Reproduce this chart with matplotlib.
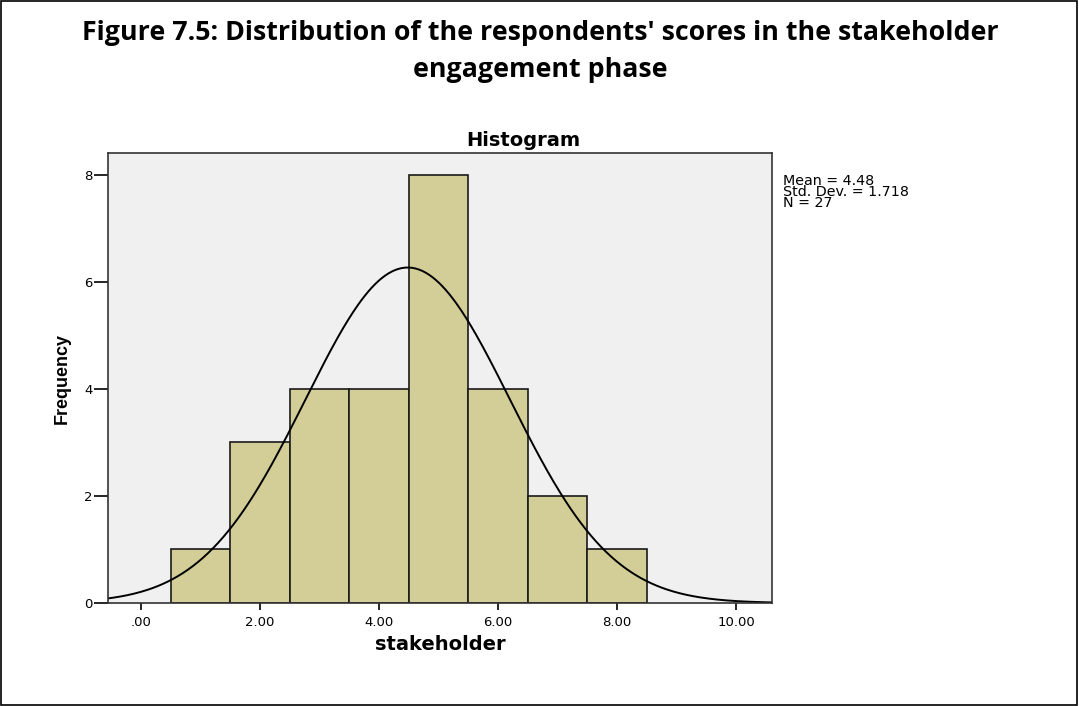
import numpy as np
import matplotlib.pyplot as plt
from matplotlib.patches import Rectangle

# binned scores (bin edges at .5 steps)
bin_edges = [0.5, 1.5, 2.5, 3.5, 4.5, 5.5, 6.5, 7.5, 8.5]
counts = [1, 3, 4, 4, 8, 4, 2, 1]
mean, sd, n = 4.48, 1.718, 27
xticks = [0, 2, 4, 6, 8, 10]
xticklabels = ['.00', '2.00', '4.00', '6.00', '8.00', '10.00']
yticks = [0, 2, 4, 6, 8]

W, H = 1079, 706
fig = plt.figure(figsize=(W / 100, H / 100), dpi=100)
fig.patches.append(Rectangle((0.001, 0.001), 0.997, 0.997, transform=fig.transFigure,
                             fill=False, edgecolor='black', linewidth=1.2))

fig.text(540 / W, 1 - 33 / H, "Figure 7.5: Distribution of the respondents' scores in the stakeholder",
         ha='center', va='center', fontsize=19.3, fontweight='bold', family='Open Sans')
fig.text(540 / W, 1 - 70 / H, "engagement phase",
         ha='center', va='center', fontsize=19.3, fontweight='bold', family='Open Sans')

ax = fig.add_axes([108 / W, 1 - 603 / H, (772 - 108) / W, (603 - 153) / H])
ax.set_facecolor('#f0f0f0')

widths = np.diff(bin_edges)
ax.bar(bin_edges[:-1], counts, width=widths, align='edge', color='#d3ce97',
       edgecolor='#1a1a1a', linewidth=1.2)

xs = np.linspace(-0.6, 10.7, 400)
pdf = n * 1.0 * np.exp(-0.5 * ((xs - mean) / sd) ** 2) / (sd * np.sqrt(2 * np.pi))
ax.plot(xs, pdf, color='black', linewidth=1.4)

ax.set_xlim(-0.555, 10.6)
ax.set_ylim(0, 8.41)
ax.set_xticks(xticks)
ax.set_xticklabels(xticklabels)
ax.set_yticks(yticks)
for s in ax.spines.values():
    s.set_color('#333333')
    s.set_linewidth(1.2)
ax.tick_params(axis='x', length=5, width=1.2, labelsize=9.5, pad=4)
ax.tick_params(axis='y', length=10, width=1.2, labelsize=9.5, pad=1)
for lab in ax.get_xticklabels() + ax.get_yticklabels():
    lab.set_family('DejaVu Sans')

fig.text(523 / W, 1 - 140 / H, 'Histogram', ha='center', va='center',
         fontsize=14, fontweight='bold', family='DejaVu Sans')
ax.set_xlabel('stakeholder', fontsize=14, fontweight='bold', family='DejaVu Sans', labelpad=5)
ax.set_ylabel('Frequency', fontsize=13, fontweight='bold', family=['Liberation Sans Narrow', 'Liberation Sans'],
              labelpad=10)

fig.text(783 / W, 1 - 192 / H, 'Mean = 4.48\nStd. Dev. = 1.718\nN = 27', ha='left', va='center',
         fontsize=10.3, family='DejaVu Sans', linespacing=0.72)

fig.savefig('out.png', dpi=100)
